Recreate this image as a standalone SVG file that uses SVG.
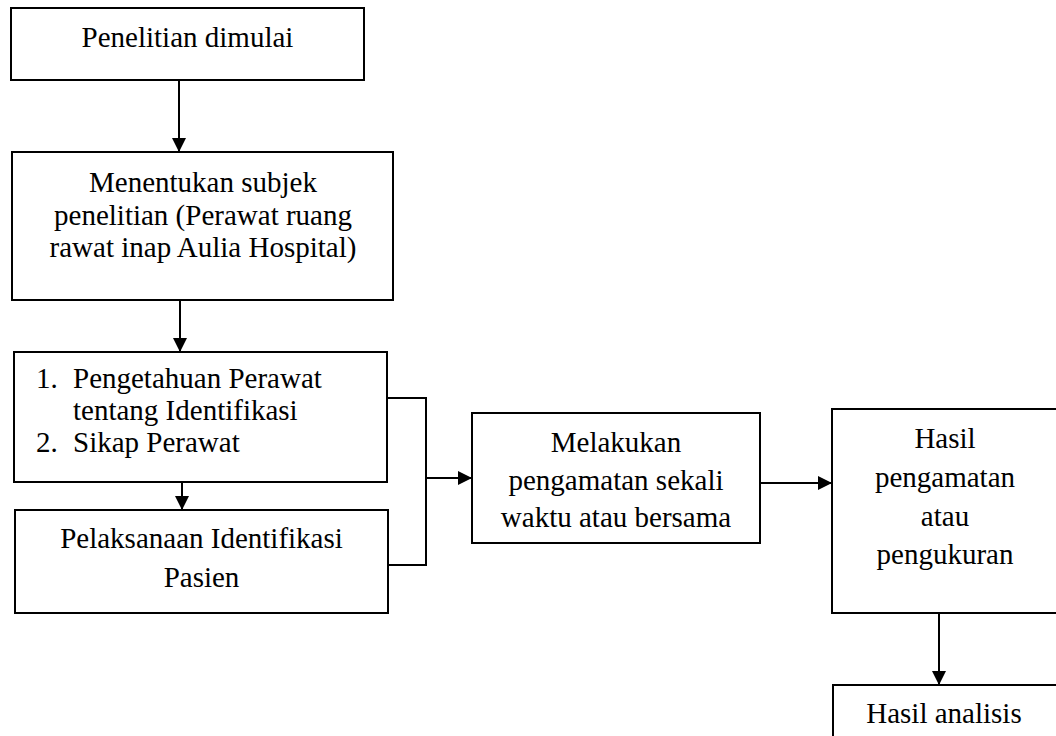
<svg xmlns="http://www.w3.org/2000/svg" width="1056" height="736" viewBox="0 0 1056 736">
<defs>
<style>
.box{fill:#fff;stroke:#000;stroke-width:2}
.t{font-family:"Liberation Serif","Times New Roman",serif;font-size:29px;fill:#000}
.c{text-anchor:middle}
.ln{fill:none;stroke:#000;stroke-width:2}
</style>
<marker id="ah" markerUnits="userSpaceOnUse" markerWidth="14" markerHeight="14" refX="14" refY="7" orient="auto">
<path d="M0,0 L14,7 L0,14 z" fill="#000"/>
</marker>
</defs>
<rect width="1056" height="736" fill="#fff"/>
<g id="connectors">
<line class="ln" x1="179" y1="80" x2="179" y2="152" marker-end="url(#ah)"/>
<line class="ln" x1="180" y1="300" x2="180" y2="352" marker-end="url(#ah)"/>
<line class="ln" x1="182" y1="478" x2="182" y2="510" marker-end="url(#ah)"/>
<polyline class="ln" points="387,398 426,398 426,565 388,565"/>
<line class="ln" x1="426" y1="478" x2="472" y2="478" marker-end="url(#ah)"/>
<line class="ln" x1="760" y1="483" x2="832" y2="483" marker-end="url(#ah)"/>
<line class="ln" x1="939" y1="613" x2="939" y2="685" marker-end="url(#ah)"/>
</g>
<g id="n1">
<rect class="box" x="11" y="8" width="353" height="72"/>
<text class="t c" x="187.5" y="47">Penelitian dimulai</text>
</g>
<g id="n2">
<rect class="box" x="12" y="152" width="381" height="148"/>
<text class="t c" x="203" y="192">Menentukan subjek</text>
<text class="t c" x="203" y="225">penelitian (Perawat ruang</text>
<text class="t c" x="203" y="257">rawat inap Aulia Hospital)</text>
</g>
<g id="n3">
<rect class="box" x="14" y="352" width="373" height="130"/>
<text class="t" x="36" y="388">1.</text>
<text class="t" x="73" y="388">Pengetahuan Perawat</text>
<text class="t" x="73" y="420">tentang Identifikasi</text>
<text class="t" x="36" y="452">2.</text>
<text class="t" x="73" y="452">Sikap Perawat</text>
</g>
<g id="n4">
<rect class="box" x="15" y="510" width="373" height="103"/>
<text class="t c" x="201.5" y="548">Pelaksanaan Identifikasi</text>
<text class="t c" x="201.5" y="587">Pasien</text>
</g>
<g id="n5">
<rect class="box" x="472" y="413" width="288" height="130"/>
<text class="t c" x="616" y="452">Melakukan</text>
<text class="t c" x="616" y="490">pengamatan sekali</text>
<text class="t c" x="616" y="527">waktu atau bersama</text>
</g>
<g id="n6">
<rect class="box" x="832" y="409" width="226" height="204"/>
<text class="t c" x="945" y="448">Hasil</text>
<text class="t c" x="945" y="487">pengamatan</text>
<text class="t c" x="945" y="526">atau</text>
<text class="t c" x="945" y="564">pengukuran</text>
</g>
<g id="n7">
<rect class="box" x="833" y="685" width="226" height="60"/>
<text class="t c" x="944" y="723">Hasil analisis</text>
</g>
</svg>
